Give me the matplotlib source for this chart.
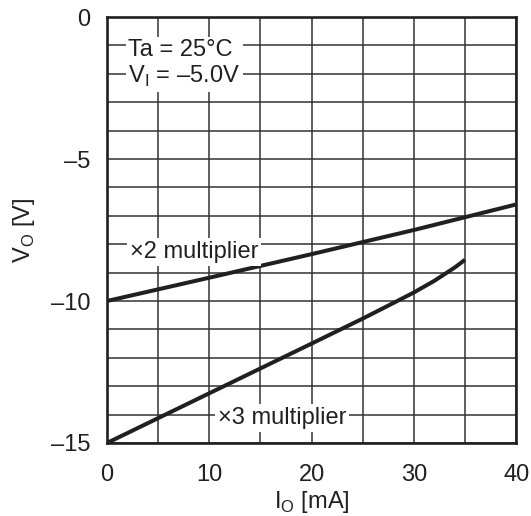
import numpy as np
import matplotlib.pyplot as plt

plt.rcParams['font.family'] = ['Liberation Sans', 'DejaVu Sans']
plt.rcParams['mathtext.fontset'] = 'custom'
plt.rcParams['mathtext.rm'] = 'Liberation Sans'

# x2 multiplier curve (Io in mA, Vo in V)
io_x2 = [0, 10, 20, 30, 40]
vo_x2 = [-10.0, -9.18, -8.35, -7.5, -6.6]

# x3 multiplier curve
io_x3 = [0, 10, 20, 25, 28, 30, 32, 34, 35]
vo_x3 = [-15.0, -13.25, -11.5, -10.62, -10.07, -9.7, -9.29, -8.82, -8.55]

x_ticks = [0, 10, 20, 30, 40]
y_ticks = [0, -5, -10, -15]

ink = '#231f20'

fig = plt.figure(figsize=(5.31, 5.16), dpi=100)
ax = fig.add_axes([0.2015, 0.1415, 0.7705, 0.8255])

ax.plot(io_x2, vo_x2, color=ink, lw=2.9, solid_capstyle='butt', zorder=3)
ax.plot(io_x3, vo_x3, color=ink, lw=2.9, solid_capstyle='butt',
        solid_joinstyle='round', zorder=3)

ax.set_xlim(0, 40)
ax.set_ylim(-15, 0)
ax.set_xticks(x_ticks)
ax.set_yticks(y_ticks)
ax.set_xticklabels([str(v) for v in x_ticks])
ax.set_yticklabels([str(v).replace('-', '\u2013') for v in y_ticks])
ax.set_xticks(np.arange(0, 41, 5), minor=True)
ax.set_yticks(np.arange(-15, 1, 1), minor=True)
ax.tick_params(which='both', length=0, labelsize=17, colors=ink)
ax.tick_params(axis='x', pad=15)
ax.tick_params(axis='y', pad=12)
ax.grid(which='minor', color='#333333', lw=1.1, zorder=1)
ax.grid(which='major', color='#333333', lw=1.1, zorder=1)
for s in ax.spines.values():
    s.set_linewidth(1.9)
    s.set_color(ink)
    s.set_zorder(4)

ax.set_xlabel(r'I$_\mathregular{O}$ [mA]', fontsize=17, color=ink, labelpad=2)
ax.set_ylabel(r'V$_\mathregular{O}$ [V]', fontsize=17, color=ink, labelpad=10)

box = dict(facecolor='white', edgecolor='none', pad=2)
ax.text(2.1, -1.65, 'Ta = 25\u00b0C\n' + r'V$_\mathregular{I}$' + ' = \u20135.0V',
        fontsize=17, color=ink, ha='left', va='center', linespacing=1.15,
        bbox=box, zorder=5)
ax.text(8.5, -8.27, '\u00d72 multiplier', fontsize=17, color=ink,
        ha='center', va='center', bbox=box, zorder=5)
ax.text(17.1, -14.12, '\u00d73 multiplier', fontsize=17, color=ink,
        ha='center', va='center', bbox=box, zorder=5)

fig.savefig('out.png', dpi=100)
